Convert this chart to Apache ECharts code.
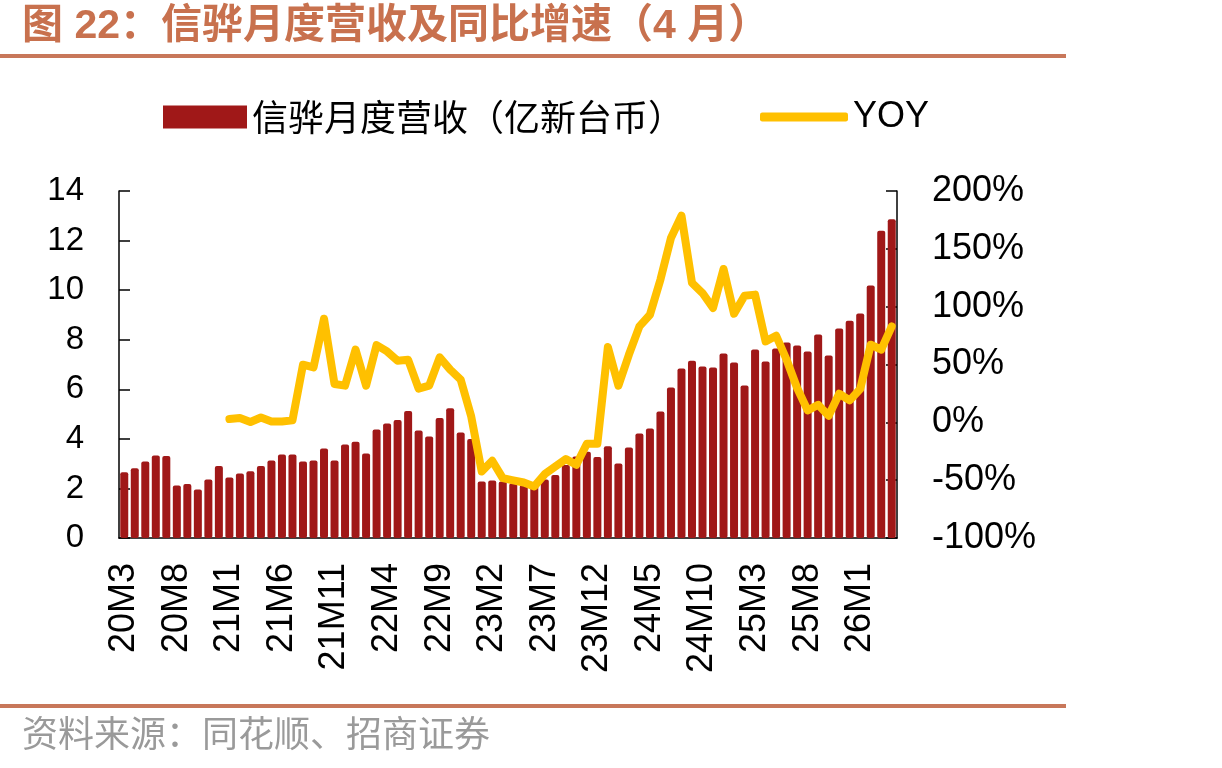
<!DOCTYPE html>
<html>
<head>
<meta charset="utf-8">
<script src="https://cdn.jsdelivr.net/npm/echarts@6/dist/echarts.min.js"></script>
<style>
  html, body { margin: 0; padding: 0; background: #fff; }
  #chart { width: 1222px; height: 768px; }
</style>
</head>
<body>
<div id="chart"></div>
<script>
  // 月份（20M3 ~ 26M4）
  var months = [
    '20M3','20M4','20M5','20M6','20M7','20M8','20M9','20M10','20M11','20M12',
    '21M1','21M2','21M3','21M4','21M5','21M6','21M7','21M8','21M9','21M10','21M11','21M12',
    '22M1','22M2','22M3','22M4','22M5','22M6','22M7','22M8','22M9','22M10','22M11','22M12',
    '23M1','23M2','23M3','23M4','23M5','23M6','23M7','23M8','23M9','23M10','23M11','23M12',
    '24M1','24M2','24M3','24M4','24M5','24M6','24M7','24M8','24M9','24M10','24M11','24M12',
    '25M1','25M2','25M3','25M4','25M5','25M6','25M7','25M8','25M9','25M10','25M11','25M12',
    '26M1','26M2','26M3','26M4'
  ];
  // 月度营收（亿新台币）
  var revenue = [
    2.65, 2.81, 3.09, 3.33, 3.31, 2.12, 2.18, 1.96, 2.36, 2.90,
    2.44, 2.60, 2.69, 2.90, 3.13, 3.37, 3.37, 3.09, 3.13, 3.61, 3.13, 3.77,
    3.88, 3.41, 4.38, 4.62, 4.76, 5.12, 4.34, 4.10, 4.84, 5.23, 4.26, 3.99,
    2.28, 2.32, 2.28, 2.21, 2.14, 2.20, 2.36, 2.54, 2.95, 3.29, 3.48, 3.27,
    3.70, 3.01, 3.65, 4.22, 4.42, 5.10, 6.07, 6.84, 7.15, 6.92, 6.88, 7.44,
    7.08, 6.15, 7.61, 7.12, 7.65, 7.89, 7.77, 7.52, 8.21, 7.36, 8.45, 8.77,
    9.06, 10.19, 12.40, 12.86
  ];
  // 同比增速（%），20年无数据
  var yoy = [
    null, null, null, null, null, null, null, null, null, null,
    2.8, 3.7, 0.3, 4.2, 0.8, 0.8, 1.7, 49.8, 47.5, 89.6, 33.1, 31.7,
    62.8, 31.7, 66.8, 61.3, 53.3, 54.1, 29.1, 31.7, 56.2, 45.5, 36.9, 5.1,
    -42.5, -33.2, -48.2, -50.2, -52.0, -55.4, -44.7, -38.1, -31.8, -36.7, -18.5, -18.5,
    65.1, 31.7, 58.5, 83.0, 93.0, 123.4, 159.4, 178.7, 120.5, 111.8, 98.9, 132.6,
    93.9, 109.5, 110.4, 70.0, 74.9, 54.1, 29.7, 10.3, 15.2, 5.7, 24.7, 19.0,
    28.8, 67.1, 62.8, 83.0
  ];

  var latin = '"Liberation Sans", Arial, "Noto Sans CJK SC", sans-serif';
  var cjk = '"Noto Sans CJK SC", sans-serif';
  var barName = '信骅月度营收（亿新台币）';

  var myChart = echarts.init(document.getElementById('chart'));
  myChart.setOption({
    animation: false,
    title: {
      text: '图 22：信骅月度营收及同比增速（4 月）',
      left: 22,
      top: 6,
      padding: 0,
      textStyle: {
        color: '#C8714E',
        fontSize: 41,
        fontWeight: 'bold',
        fontFamily: latin
      }
    },
    graphic: [
      { type: 'rect', shape: { x: 0, y: 54, width: 1066, height: 4 }, style: { fill: '#C8775A' } },
      { type: 'rect', shape: { x: 0, y: 704, width: 1066, height: 4 }, style: { fill: '#C8775A' } },
      {
        type: 'text', left: 22, top: 715,
        style: { text: '资料来源：同花顺、招商证券', fill: '#9A9A9A', font: '36px ' + cjk }
      }
    ],
    legend: [
      {
        data: [{ name: barName, icon: 'rect' }],
        left: 163,
        top: 99,
        padding: 0,
        itemWidth: 84,
        itemHeight: 23,
        textStyle: { fontSize: 36, fontFamily: cjk, color: '#000', lineHeight: 36 }
      },
      {
        data: [{ name: 'YOY', icon: 'roundRect', itemStyle: { color: '#FFC000' } }],
        left: 760,
        top: 99,
        padding: 0,
        itemWidth: 88,
        itemHeight: 9,
        textStyle: { fontSize: 36, fontFamily: latin, color: '#000', lineHeight: 36 }
      }
    ],
    grid: {
      left: 119,
      right: 325,
      top: 191,
      bottom: 230,
      containLabel: false
    },
    xAxis: [{
      type: 'category',
      data: months,
      boundaryGap: true,
      axisLine: { lineStyle: { color: '#000', width: 1.5 } },
      axisTick: { inside: true, length: 11, interval: 0, lineStyle: { color: '#000', width: 1.5 } },
      axisLabel: {
        interval: 4,
        rotate: 90,
        margin: 25,
        color: '#000',
        fontSize: 36,
        fontFamily: latin
      }
    }],
    yAxis: [
      {
        type: 'value',
        min: 0,
        max: 14,
        interval: 2,
        splitLine: { show: false },
        axisLine: { show: true, lineStyle: { color: '#000', width: 1.5 } },
        axisTick: { show: true, inside: true, length: 11, lineStyle: { color: '#000', width: 1.5 } },
        axisLabel: { margin: 35, color: '#000', fontSize: 33, fontFamily: latin }
      },
      {
        type: 'value',
        min: -100,
        max: 200,
        interval: 50,
        position: 'right',
        splitLine: { show: false },
        axisLine: { show: true, lineStyle: { color: '#000', width: 1.5 } },
        axisTick: { show: true, inside: true, length: 11, lineStyle: { color: '#000', width: 1.5 } },
        axisLabel: { margin: 35, color: '#000', fontSize: 36, fontFamily: latin, formatter: '{value}%' }
      }
    ],
    series: [
      {
        name: barName,
        type: 'bar',
        data: revenue,
        barWidth: 8,
        itemStyle: {
          color: '#A01818',
          borderRadius: [2, 2, 2, 2]
        }
      },
      {
        name: 'YOY',
        type: 'line',
        yAxisIndex: 1,
        data: yoy,
        symbol: 'none',
        connectNulls: false,
        lineStyle: { color: '#FFC000', width: 8, cap: 'round', join: 'round' },
        itemStyle: { color: '#FFC000' }
      }
    ]
  });
</script>
</body>
</html>
